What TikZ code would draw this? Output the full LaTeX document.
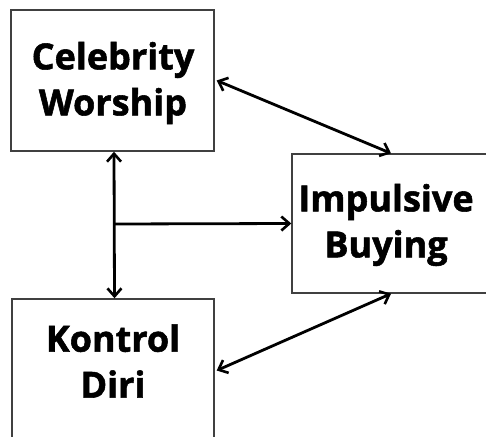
\documentclass[tikz,border=0pt]{standalone}
\usepackage{fontspec}
\setmainfont{Open Sans}
\newfontfamily\heavyfont[BoldFeatures={FakeBold=1.5}]{Open Sans}
\usetikzlibrary{arrows.meta}
\begin{document}
\begin{tikzpicture}[x=1pt,y=-1pt,
  box/.style={draw=black!75,line width=1.4pt,fill=white,rectangle,inner sep=0pt},
  lbl/.style={font=\heavyfont\fontsize{36}{46}\selectfont\bfseries,align=center},
  conn/.style={line width=2.8pt,{Straight Barb[length=8pt,width=14pt,line width=2.6pt]}-{Straight Barb[length=8pt,width=14pt,line width=2.6pt]}},
  oneway/.style={line width=2.8pt,-{Straight Barb[length=8pt,width=14pt,line width=2.6pt]}}]
\useasboundingbox (0,0) rectangle (486,436);
\clip (0,0) rectangle (486,436);
\fill[white] (0,0) rectangle (486,436);
\node[box,minimum width=203pt,minimum height=141pt] (cw) at (112.5,80.5) {};
\node[box,minimum width=198pt,minimum height=139pt] (ib) at (391,223.5) {};
\node[box,minimum width=202pt,minimum height=141pt] (kd) at (113,369.5) {};
\node[lbl] (cwt) at (113,83) {Celebrity\\Worship};
\node[lbl] (ibt) at (386,225) {Impulsive\\Buying};
\node[lbl] (kdt) at (113,361) {Kontrol\\Diri};
\coordinate (j) at (114,224);
\draw[conn] ([xshift=1.5pt]cw.south) -- ([xshift=1.5pt]kd.north);
\draw[oneway] (j) -- (ib.west);
\draw[conn] ([xshift=2pt]cw.east) -- (ib.north);
\draw[conn] ([xshift=2pt,yshift=-1pt]kd.east) -- (ib.south);
\end{tikzpicture}
\end{document}
